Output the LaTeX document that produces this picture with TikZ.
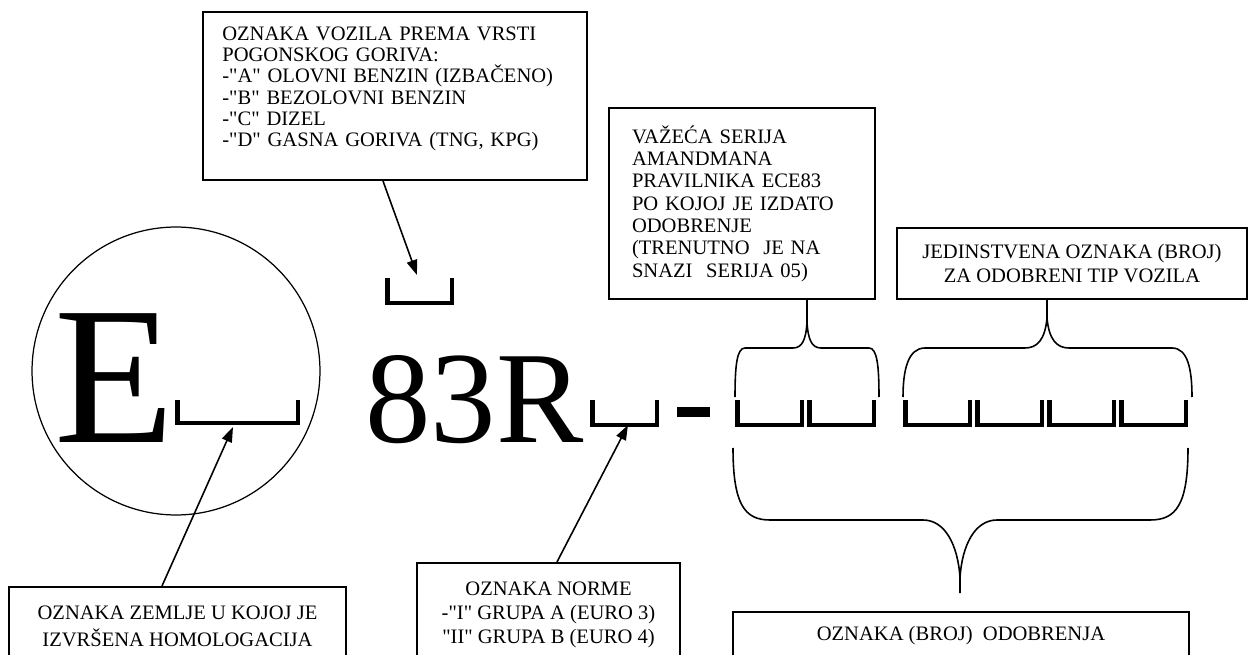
\documentclass[tikz,border=0pt]{standalone}
\usepackage{fontspec}
\setmainfont{Liberation Serif}[Ligatures=TeXOff]
\usetikzlibrary{arrows.meta}

\tikzset{
  notebox/.style = {draw, line width=1.2pt, inner sep=0pt},
  pointer/.style = {line width=0.9pt, -{Triangle[length=0.3cm,width=0.21cm]}},
  brace/.style = {line width=0.9pt},
  slotline/.style = {line width=0.09cm},
  slot/.pic = {
    \draw[slotline] (2.25,0) -- (2.25,24.75) -- (66.75,24.75) -- (66.75,0);
  }
}

\begin{document}
\begin{tikzpicture}[x=0.02cm, y=-0.02cm]
  \useasboundingbox (0,0) rectangle (1248,655);

  % the mark itself
  \node[circle, draw, line width=0.7pt, minimum size=5.76cm] (circ) at (176,371) {};
  \node[anchor=base west, inner sep=0pt, font=\fontsize{112}{112}\selectfont] (letter) at (54,442) {E};
  \node[anchor=base west, inner sep=0pt, font=\fontsize{74.5}{74.5}\selectfont] (code) at (365,442) {83R};
  \draw[slotline] (177.25,400) -- (177.25,422.75) -- (297.75,422.75) -- (297.75,400);
  \pic at (385,278) {slot};
  \pic at (590,400) {slot};
  \fill (677,407) rectangle (710,417);
  \foreach \x in {735,807,903,975,1047,1119} {
    \pic at (\x,400) {slot};
  };

  % boxes
  \node[notebox, minimum width=7.68cm, minimum height=3.36cm,
        label={[anchor=north west, inner sep=0pt, xshift=0.4cm, yshift=-0.31cm,
                text width=6.88cm, align=left, font=\fontsize{11.7}{12.1}\selectfont]north west:
    {OZNAKA VOZILA PREMA VRSTI\\ POGONSKOG GORIVA:\\ -"A" OLOVNI BENZIN (IZBAČENO)\\
     -"B" BEZOLOVNI BENZIN\\ -"C" DIZEL\\ -"D" GASNA GORIVA (TNG, KPG)}}] (fuel) at (395,96) {};
  \node[notebox, minimum width=5.32cm, minimum height=3.82cm, text width=4.4cm, align=left,
        font=\fontsize{11.7}{12.7}\selectfont] (series) at (742,203.5)
    {VAŽEĆA SERIJA\\ AMANDMANA\\ PRAVILNIKA ECE83\\ PO KOJOJ JE IZDATO\\ ODOBRENJE\\
     (TRENUTNO~ JE NA\\ SNAZI~ SERIJA 05)};
  \node[notebox, minimum width=7cm, minimum height=1.42cm, align=center,
        font=\fontsize{11.7}{14.2}\selectfont] (unique) at (1072,263.5)
    {JEDINSTVENA OZNAKA (BROJ)\\ ZA ODOBRENI TIP VOZILA};
  \node[notebox, minimum width=6.74cm, minimum height=1.56cm, align=center,
        font=\fontsize{11.7}{15.2}\selectfont] (land) at (177.5,626)
    {OZNAKA ZEMLJE U KOJOJ JE\\ IZVRŠENA HOMOLOGACIJA};
  \node[notebox, minimum width=5.26cm, minimum height=2.08cm, align=center,
        font=\fontsize{11.7}{13.8}\selectfont] (norm) at (548.5,615)
    {OZNAKA NORME\\ -"I" GRUPA A (EURO 3)\\ "II" GRUPA B (EURO 4)};
  \node[notebox, minimum width=9.12cm, minimum height=0.96cm, align=center,
        font=\fontsize{11.7}{13.8}\selectfont] (approval) at (961,636)
    {OZNAKA (BROJ)~ ODOBRENJA};

  % arrows
  \coordinate (fuelslot) at (417,275);
  \coordinate (landslot) at (233,427);
  \coordinate (normslot) at (628,425);
  \draw[pointer] ([xshift=-0.24cm]fuel.south) -- (fuelslot);
  \draw[pointer] ([xshift=-0.31cm]land.north) -- (landslot);
  \draw[pointer] ([xshift=0.17cm]norm.north) -- (normslot);

  % braces
  \draw[brace] (807,299) -- (807,322)
    .. controls (806,340) and (802,348) .. (793,348) -- (745,348)
    .. controls (737,348) and (735,365) .. (735,397);
  \draw[brace] (807,322)
    .. controls (808,340) and (812,348) .. (821,348) -- (869,348)
    .. controls (877,348) and (879,365) .. (879,397);
  \draw[brace] (1047,299) -- (1047,318)
    .. controls (1045,340) and (1037,348) .. (1025,348) -- (925,348)
    .. controls (908,348) and (903,370) .. (903,397);
  \draw[brace] (1047,318)
    .. controls (1049,340) and (1057,348) .. (1069,348) -- (1172,348)
    .. controls (1188,348) and (1192,370) .. (1192,397);
  \draw[brace] (733,448) .. controls (733,505) and (745,520) .. (770,520) -- (923,520)
    .. controls (945,520) and (958,545) .. (960,578) -- (960,593);
  \draw[brace] (960,578) .. controls (962,545) and (975,520) .. (997,520) -- (1150,520)
    .. controls (1176,520) and (1188,505) .. (1188,448);
\end{tikzpicture}
\end{document}
